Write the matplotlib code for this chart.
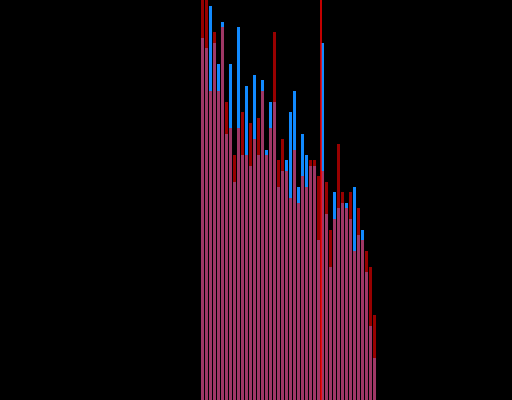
import numpy as np
import matplotlib
matplotlib.use("Agg")
import matplotlib.pyplot as plt

# bin counts (44 bins)
blue_counts = [362, 352, 394, 357, 336, 378, 266, 336, 218, 373,
               245, 314, 234, 325, 245, 320, 250, 298, 298, 213,
               229, 240, 288, 309, 213, 266, 245, 234, 234, 160,
               357, 186, 133, 208, 192, 197, 197, 181, 213, 165,
               170, 128, 74, 42]
red_counts = [430, 415, 309, 368, 309, 373, 298, 272, 245, 272,
              288, 245, 277, 261, 282, 309, 245, 272, 368, 240,
              261, 229, 202, 250, 197, 224, 213, 240, 240, 224,
              229, 218, 170, 181, 256, 208, 192, 208, 149, 192,
              160, 149, 133, 85]
threshold = 29.5

bins = np.arange(len(blue_counts))

fig = plt.figure(figsize=(5.12, 4.0), dpi=100, facecolor="black")
ax = fig.add_axes([0, 0, 1, 1])
ax.set_facecolor("black")

ax.bar(bins, blue_counts, width=0.75, color="#118aff", linewidth=0)
ax.bar(bins, red_counts, width=0.75, color="red", alpha=0.6, linewidth=0)
ax.axvline(threshold, color="red", linewidth=1.1)

ax.set_xlim(-50.625, 77.375)
ax.set_ylim(0, 400)
ax.axis("off")

fig.savefig("out.png", dpi=100, facecolor="black")
